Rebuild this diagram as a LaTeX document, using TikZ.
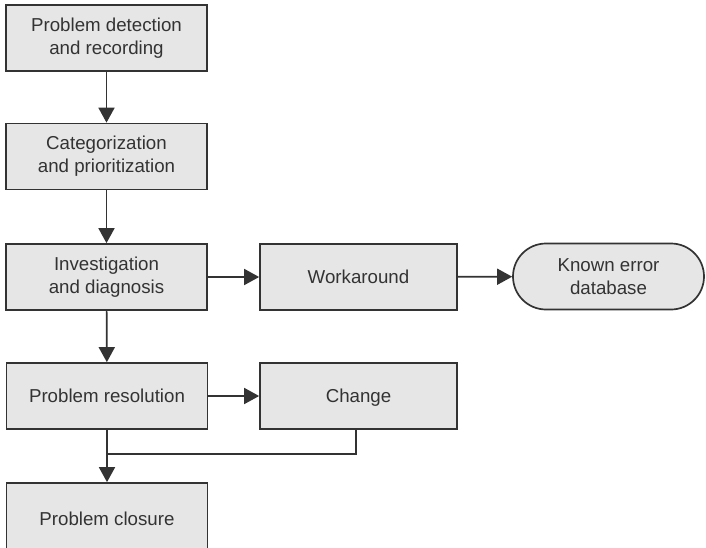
\documentclass[tikz,border=0pt]{standalone}
\usepackage{fontspec}
\setmainfont{Liberation Sans}
\usetikzlibrary{arrows.meta,shapes.misc}
\definecolor{boxfill}{HTML}{E6E6E6}
\definecolor{ink}{HTML}{333333}
\tikzset{
  stepbox/.style={draw=ink, line width=1.7pt, fill=boxfill, text=ink, align=center,
    minimum width=201pt, minimum height=66pt, inner sep=0pt,
    font=\fontsize{18.7}{23}\selectfont},
  oneline/.style={text height=17pt, text depth=4pt},
  termbox/.style={stepbox, rounded rectangle, minimum width=191pt},
  conn/.style={draw=ink, line width=1.7pt, -{Triangle[length=15pt,width=16pt]}},
  plainconn/.style={draw=ink, line width=1.7pt}
}
\begin{document}
\begin{tikzpicture}[x=1pt,y=-1pt]
\useasboundingbox (0,0) rectangle (706,548);
\fill[white] (0,0) rectangle (706,548);
\node[stepbox] (b1) at (106.5,38) {Problem detection\\and recording};
\node[stepbox] (b2) at (106.5,156.5) {Categorization\\and prioritization};
\node[stepbox] (b3) at (106.5,277) {Investigation\\and diagnosis};
\node[stepbox, oneline, minimum width=197pt] (wa) at (358.5,277) {Workaround};
\node[termbox] (ked) at (608.5,276.5) {Known error\\database};
\node[stepbox, oneline] (b4) at (107,396) {Problem resolution};
\node[stepbox, oneline, minimum width=197pt] (ch) at (358.5,396) {Change};
\node[stepbox, oneline, minimum height=72pt] (b5) at (107,519) {Problem closure};
\coordinate (m) at (107,454);
\draw[conn] (b1) -- (b2);
\draw[conn] (b2) -- (b3);
\draw[conn] (b3) -- (b4);
\draw[conn] (b3) -- (wa);
\draw[conn] (wa) -- (ked);
\draw[conn] (b4) -- (ch);
\draw[conn] (b4) -- (b5);
\draw[plainconn] ([xshift=-2.5pt]ch.south) |- (m);
\end{tikzpicture}
\end{document}
